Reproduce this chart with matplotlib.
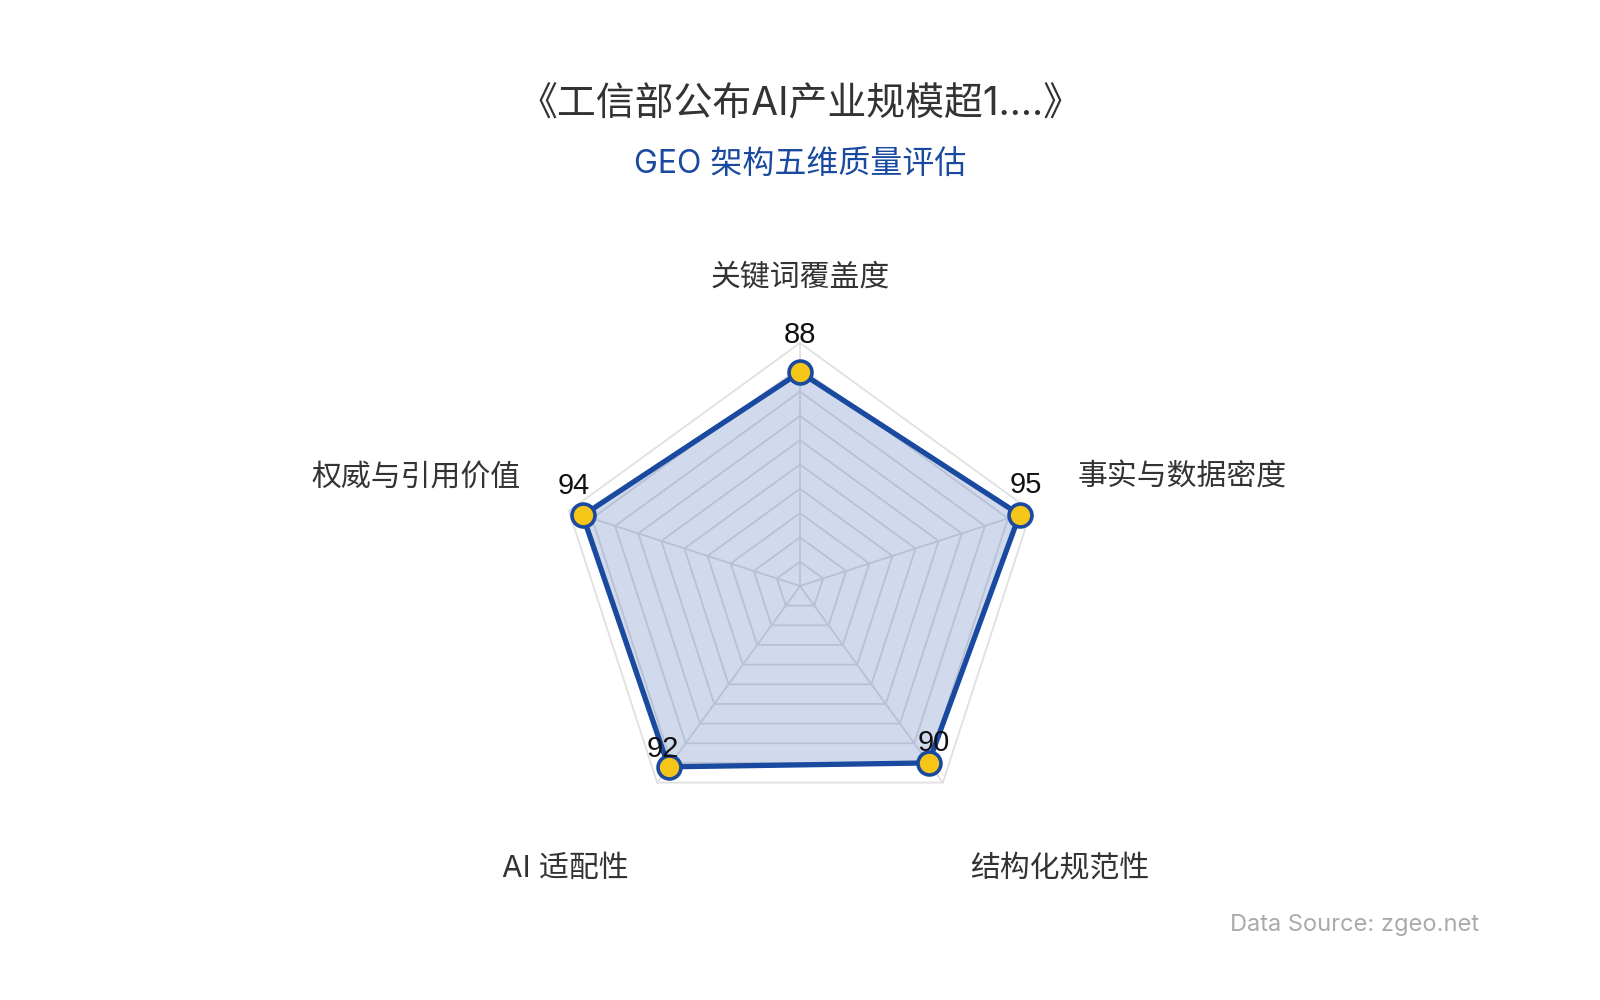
import numpy as np
import matplotlib
matplotlib.use("Agg")
import matplotlib.pyplot as plt

plt.rcParams['font.family'] = ['Inter', 'Noto Sans CJK SC', 'DejaVu Sans']

# ---- data ----
categories = ['关键词覆盖度', '事实与数据密度', '结构化规范性', 'AI 适配性', '权威与引用价值']
values = [88, 95, 90, 92, 94]
max_value = 100
ring_levels = [10, 20, 30, 40, 50, 60, 70, 80, 90, 100]
title_text = '《工信部公布AI产业规模超1....》'
subtitle_text = 'GEO 架构五维质量评估'
source_text = 'Data Source: zgeo.net'

# ---- styles ----
BLUE = '#1a49a0'
YELLOW = '#f5c518'
GRID = '#e0e0e0'
W, H = 1600, 1000
cx, cy, R = 800, 586, 243  # center & radius in px (from top)

fig = plt.figure(figsize=(16, 10), dpi=100)
fig.patch.set_facecolor('white')
ax = fig.add_axes([(cx - R) / W, (H - cy - R) / H, 2 * R / W, 2 * R / H], projection='polar')
ax.set_theta_zero_location('N')
ax.set_theta_direction(-1)
ax.set_ylim(0, max_value)
ax.set_axis_off()

n = len(categories)
angles = np.linspace(0, 2 * np.pi, n, endpoint=False)
closed = np.concatenate([angles, angles[:1]])

# grid rings and spokes
for lv in ring_levels:
    ax.plot(closed, [lv] * (n + 1), color=GRID, lw=1.3, zorder=1, clip_on=False)
for a in angles:
    ax.plot([a, a], [0, max_value], color=GRID, lw=1.3, zorder=1, clip_on=False)

vals = np.array(values + values[:1], dtype=float)
ax.fill(closed, vals, color=BLUE, alpha=0.2, zorder=2, lw=0)
ax.plot(closed, vals, color=BLUE, lw=3.8, zorder=3, solid_joinstyle='miter', clip_on=False)
ax.plot(angles, values, 'o', ms=16.5, mfc=YELLOW, mec=BLUE, mew=2.6, zorder=4, clip_on=False)

# value labels (offsets in px)
val_offsets = [(0, 37), (6, 30), (5, 20), (-6, 18), (-9, 29)]
for a, v, (dx, dy) in zip(angles, values, val_offsets):
    ax.annotate(str(v), (a, v), xytext=(dx * 0.72, dy * 0.72), textcoords='offset points',
                ha='center', va='center', fontsize=21, color='#111111',
                family=['Liberation Sans', 'DejaVu Sans'], zorder=5, annotation_clip=False)

# category labels (px positions: x, y-from-top, ha)
label_pos = [(800, 277, 'center'), (1078, 478, 'left'), (1060, 869, 'center'),
             (565, 869, 'center'), (521, 478, 'right')]
for cat, (x, y, ha) in zip(categories, label_pos):
    fig.text(x / W, 1 - y / H, cat, ha=ha, va='center', fontsize=21.5, color='#333333')

fig.text(0.5, 1 - 105 / H, title_text, ha='center', va='center', fontsize=28, color='#333333')
fig.text(0.5, 1 - 164 / H, subtitle_text, ha='center', va='center', fontsize=23, color=BLUE)
fig.text(1479 / W, 1 - 925 / H, source_text, ha='right', va='center', fontsize=17, color='#aaaaaa')

fig.savefig('out.png', dpi=100, facecolor='white')
